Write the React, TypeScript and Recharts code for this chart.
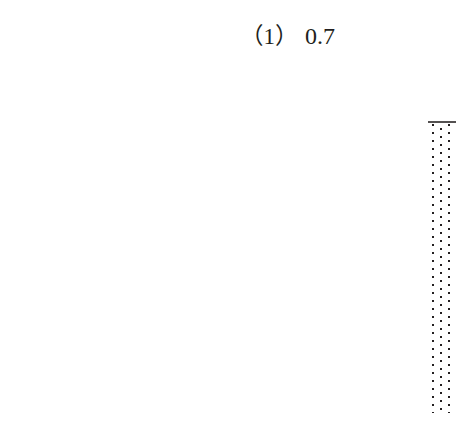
import React from "react";
import { BarChart, Bar, XAxis, YAxis } from "recharts";

const categories = ["(1)"];
const values = [0.7];
const titleLabel = "（1）";
const titleValue = "0.7";

const data = categories.map((c, i) => ({ name: c, value: values[i] }));

const DottedBar = (props: any) => {
  const { x, y, width, height } = props;
  return (
    <g>
      <rect x={x} y={y} width={width} height={height} fill="url(#dotPattern)" />
      <line x1={x} y1={y} x2={x + width} y2={y} stroke="#2a2626" strokeWidth={1.6} />
    </g>
  );
};

export default function App() {
  return (
    <div style={{ position: "absolute", left: 0, top: 0, width: 456, height: 429, background: "#fff" }}>
      <svg width={456} height={429} style={{ position: "absolute", left: 0, top: 0 }}>
        <text
          x={240.5}
          y={44}
          fontFamily="'Liberation Serif', 'Noto Sans CJK SC', serif"
          fontSize={23}
          fill="#231f20"
        >
          {titleLabel}
          <tspan dx={7} fontSize={24}>{titleValue}</tspan>
        </text>
      </svg>
      <BarChart
        width={456}
        height={429}
        data={data}
        margin={{ top: 122, right: 0, bottom: 16, left: 428 }}
        barCategoryGap={0}
        style={{ position: "absolute", left: 0, top: 0 }}
      >
        <defs>
          <pattern id="dotPattern" patternUnits="userSpaceOnUse" x={428} y={122} width={16} height={8}>
            <rect x={4} y={2} width={2} height={2} fill="#231f20" />
            <rect x={12} y={6} width={2} height={2} fill="#231f20" />
          </pattern>
        </defs>
        <XAxis dataKey="name" hide />
        <YAxis hide domain={[0, 0.7]} />
        <Bar dataKey="value" shape={<DottedBar />} isAnimationActive={false} />
      </BarChart>
    </div>
  );
}
